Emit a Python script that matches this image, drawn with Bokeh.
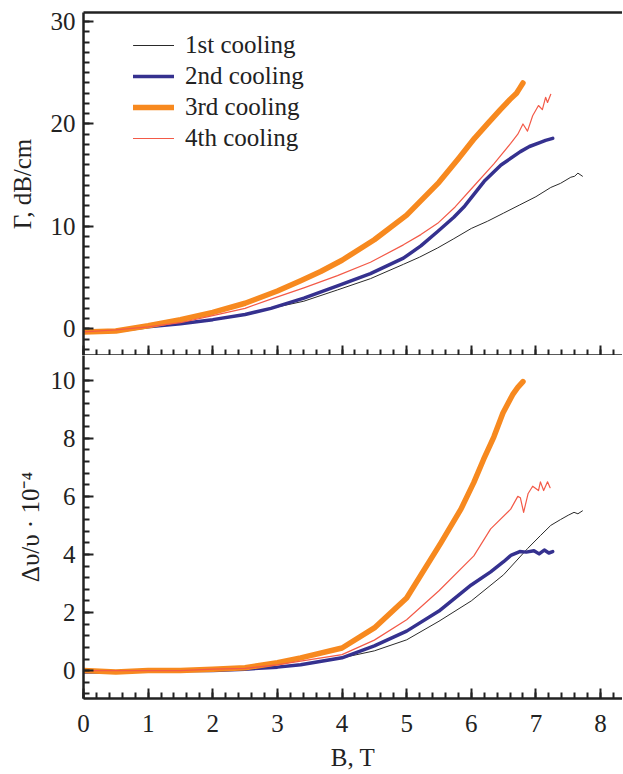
from bokeh.plotting import figure
from bokeh.layouts import column
from bokeh.models import LinearAxis, FixedTicker, Range1d, Legend, LegendItem
from bokeh.embed import file_html
from bokeh.resources import INLINE

# ---------------- data ----------------
# Top panel: attenuation Gamma, dB/cm
g1_B = [0, 0.5, 1, 1.5, 2, 2.5, 2.9, 3.41, 3.93, 4.44, 4.95, 5.2, 5.48, 5.73, 6.0, 6.25, 6.5, 6.75, 7.0, 7.23, 7.38, 7.54, 7.6, 7.65, 7.72]
g1_v = [-0.3, -0.2, 0.2, 0.5, 0.9, 1.4, 2.0, 2.7, 3.8, 4.9, 6.3, 7.0, 7.9, 8.8, 9.8, 10.5, 11.3, 12.1, 12.9, 13.8, 14.2, 14.8, 14.9, 15.2, 14.9]

g2_B = [0, 0.5, 1, 1.5, 2, 2.5, 2.9, 3.41, 3.93, 4.44, 4.95, 5.22, 5.48, 5.73, 5.9, 6.05, 6.2, 6.46, 6.76, 6.9, 7.07, 7.15, 7.26]
g2_v = [-0.3, -0.2, 0.2, 0.5, 0.9, 1.4, 2.0, 3.0, 4.2, 5.4, 6.9, 8.1, 9.5, 10.9, 12.0, 13.2, 14.4, 16.0, 17.3, 17.8, 18.2, 18.4, 18.6]

g3_B = [0, 0.5, 1, 1.5, 2, 2.5, 3, 3.36, 3.67, 4, 4.5, 5, 5.5, 5.8, 6.05, 6.25, 6.45, 6.6, 6.7, 6.75, 6.8]
g3_v = [-0.3, -0.2, 0.3, 0.9, 1.6, 2.5, 3.7, 4.7, 5.6, 6.7, 8.7, 11.1, 14.3, 16.6, 18.6, 20.0, 21.4, 22.4, 23.0, 23.5, 24.0]

g4_B = [0, 0.5, 1, 1.5, 2, 2.5, 2.9, 3.41, 3.93, 4.44, 4.95, 5.22, 5.48, 5.75, 6.02, 6.35, 6.61, 6.72, 6.8, 6.87, 6.95, 7.04, 7.1, 7.15, 7.18, 7.23]
g4_v = [-0.3, -0.1, 0.2, 0.6, 1.3, 2.0, 2.9, 4.0, 5.2, 6.5, 8.2, 9.2, 10.3, 11.9, 13.8, 16.1, 18.1, 19.0, 20.0, 19.3, 20.8, 21.8, 21.4, 22.6, 22.1, 22.9]

# Bottom panel: relative sound velocity change, x 10^-4
d1_B = [0, 0.5, 1, 1.5, 2, 2.5, 3, 3.36, 4, 4.5, 5, 5.5, 6, 6.5, 6.87, 7.07, 7.23, 7.38, 7.5, 7.59, 7.65, 7.72]
d1_v = [0, -0.03, 0, 0, 0.03, 0.07, 0.12, 0.2, 0.44, 0.68, 1.06, 1.7, 2.4, 3.3, 4.2, 4.65, 5.0, 5.2, 5.35, 5.45, 5.4, 5.5]

d2_B = [0, 0.5, 1, 1.5, 2, 2.5, 3, 3.36, 4, 4.5, 5, 5.5, 6, 6.3, 6.5, 6.62, 6.75, 6.85, 6.97, 7.05, 7.13, 7.2, 7.26]
d2_v = [-0.05, -0.05, 0, 0, 0, 0.05, 0.12, 0.2, 0.44, 0.85, 1.36, 2.05, 2.95, 3.4, 3.75, 3.98, 4.1, 4.08, 4.13, 4.02, 4.15, 4.05, 4.1]

d3_B = [0, 0.5, 1, 1.5, 2, 2.5, 3, 3.36, 4, 4.5, 5, 5.53, 5.84, 6.04, 6.19, 6.35, 6.49, 6.64, 6.72, 6.8]
d3_v = [0, -0.05, 0, 0, 0.05, 0.1, 0.27, 0.44, 0.78, 1.47, 2.5, 4.4, 5.56, 6.48, 7.27, 8.05, 8.87, 9.5, 9.75, 9.95]

d4_B = [0, 0.5, 1, 1.5, 2, 2.5, 3, 3.36, 4, 4.5, 5, 5.5, 6.04, 6.3, 6.61, 6.72, 6.76, 6.81, 6.88, 6.95, 7.04, 7.07, 7.12, 7.18, 7.22]
d4_v = [0, 0, 0, 0, 0.05, 0.08, 0.2, 0.33, 0.55, 1.05, 1.75, 2.75, 3.95, 4.88, 5.56, 6.0, 5.95, 5.45, 6.1, 6.35, 6.2, 6.5, 6.2, 6.5, 6.3]

series_names = ["1st cooling", "2nd cooling", "3rd cooling", "4th cooling"]
x_ticks = [0, 1, 2, 3, 4, 5, 6, 7, 8]
top_ticks = [0, 10, 20, 30]
bot_ticks = [0, 2, 4, 6, 8, 10]
x_minor = [round(i * 0.2, 1) for i in range(0, 42)]
top_minor = list(range(-2, 31))
bot_minor = [round(-0.8 + i * 0.4, 1) for i in range(0, 29)]

X_LIM = (0, 8.34)
TOP_LIM = (-2.6, 30.88)
BOT_LIM = (-0.96, 10.85)

# ---------------- styles ----------------
colors = ["#2a2a2a", "#35318f", "#f7891f", "#f35a48"]
widths = [1.0, 3.5, 5.5, 1.2]
FONT = "Liberation Serif"
FS = "25px"
INK = "#222222"
W = 622
LEFT = 83
TOP_FRAME_H = 343


def style_axis(ax, labels=True, ticks=True):
    ax.axis_line_width = 2.5
    ax.axis_line_color = INK
    ax.major_tick_line_color = INK if ticks else None
    ax.minor_tick_line_color = INK if ticks else None
    ax.major_tick_line_width = 2
    ax.minor_tick_line_width = 2
    ax.major_tick_in = 10
    ax.major_tick_out = 0
    ax.minor_tick_in = 6
    ax.minor_tick_out = 0
    ax.major_label_text_font = FONT
    ax.major_label_text_color = INK
    ax.axis_label_text_font = FONT
    ax.axis_label_text_font_style = "normal"
    ax.axis_label_text_color = INK
    ax.axis_label_text_font_size = FS
    if labels:
        ax.major_label_text_font_size = FS
    else:
        ax.major_label_text_font_size = "1px"
        ax.major_label_text_color = None
        ax.major_label_standoff = 0


x_range = Range1d(*X_LIM)

# ---------------- top panel ----------------
p1 = figure(width=W, height=12 + TOP_FRAME_H, x_range=x_range, y_range=Range1d(*TOP_LIM),
            output_backend="svg", toolbar_location=None, x_axis_location=None,
            y_axis_location=None)
p1.min_border_left = LEFT
p1.min_border_right = 0
p1.min_border_top = 12
p1.min_border_bottom = 0
p1.outline_line_color = None
p1.grid.visible = False
p1.background_fill_color = None
p1.border_fill_color = None

ly1 = LinearAxis(ticker=FixedTicker(ticks=top_ticks, minor_ticks=top_minor), axis_label="Γ, dB/cm")
style_axis(ly1)
ly1.major_label_standoff = 8
ly1.axis_label_standoff = 12
p1.add_layout(ly1, "left")

bx1 = LinearAxis(ticker=FixedTicker(ticks=x_ticks, minor_ticks=x_minor))
style_axis(bx1, labels=False)
p1.add_layout(bx1, "below")

tx1 = LinearAxis(ticker=FixedTicker(ticks=[]))
style_axis(tx1, labels=False, ticks=False)
p1.add_layout(tx1, "above")

items = []
for B, v, c, w, n in zip([g1_B, g2_B, g3_B, g4_B], [g1_v, g2_v, g3_v, g4_v], colors, widths, series_names):
    r = p1.line(B, v, line_color=c, line_width=w, line_join="round", line_cap="round")
    items.append((n, r))

legend = Legend(items=[LegendItem(label=n, renderers=[r]) for n, r in items],
                location=(50, 202))
legend.border_line_color = None
legend.background_fill_alpha = 0
legend.padding = 0
legend.margin = 0
legend.spacing = 1
legend.glyph_width = 41
legend.glyph_height = 30
legend.label_height = 30
legend.label_standoff = 11
legend.label_text_font = FONT
legend.label_text_font_size = FS
legend.label_text_color = INK
p1.add_layout(legend, "center")

# ---------------- bottom panel ----------------
p2 = figure(width=W, height=418, x_range=x_range, y_range=Range1d(*BOT_LIM),
            output_backend="svg", toolbar_location=None, x_axis_location=None,
            y_axis_location=None)
p2.min_border_left = LEFT
p2.min_border_right = 0
p2.min_border_top = 0
p2.min_border_bottom = 0
p2.outline_line_color = None
p2.grid.visible = False
p2.background_fill_color = None
p2.border_fill_color = None

ly2 = LinearAxis(ticker=FixedTicker(ticks=bot_ticks, minor_ticks=bot_minor), axis_label="Δυ/υ · 10⁻⁴")
style_axis(ly2)
ly2.major_label_standoff = 8
ly2.axis_label_standoff = 4
p2.add_layout(ly2, "left")

bx2 = LinearAxis(ticker=FixedTicker(ticks=x_ticks, minor_ticks=x_minor), axis_label="B, T")
style_axis(bx2)
bx2.major_label_standoff = 16
bx2.axis_label_standoff = 9
p2.add_layout(bx2, "below")

for B, v, c, w in zip([d1_B, d2_B, d3_B, d4_B], [d1_v, d2_v, d3_v, d4_v], colors, widths):
    p2.line(B, v, line_color=c, line_width=w, line_join="round", line_cap="round")

layout = column(p1, p2, spacing=0)
open("out.html", "w").write(file_html(layout, INLINE))
